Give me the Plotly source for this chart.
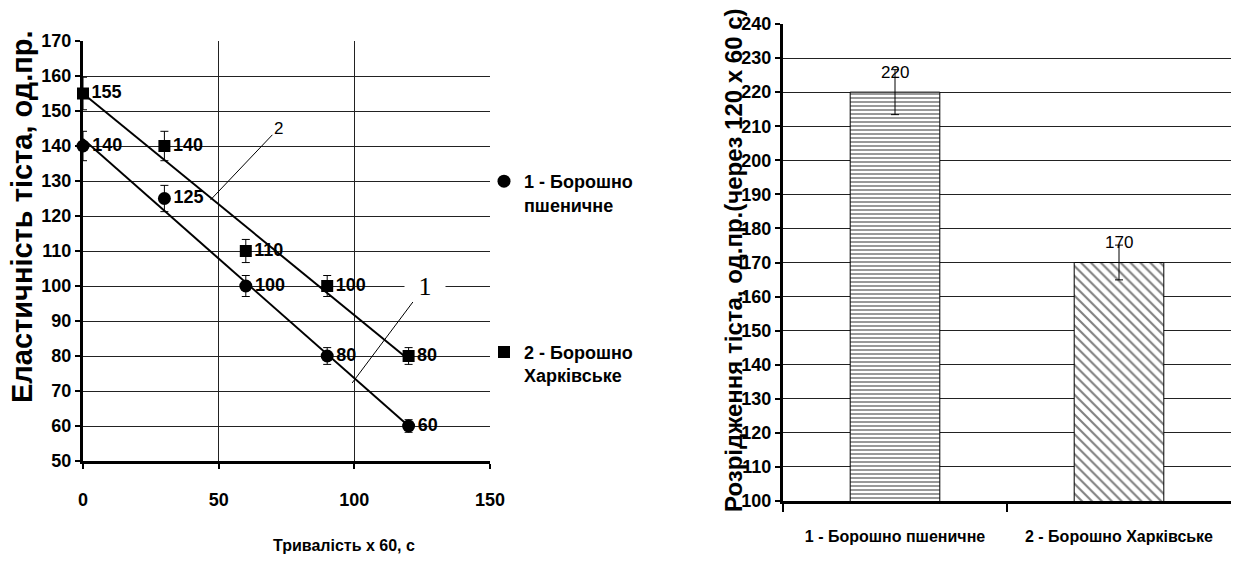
import numpy as np
import plotly.graph_objects as go

# ---------------- data ----------------
time_x = [0, 30, 60, 90, 120]
wheat_y = [140, 125, 100, 80, 60]
kharkiv_y = [155, 140, 110, 100, 80]
err_pct = 3

x_ticks_left = [0, 50, 100, 150]
y_ticks_left = list(range(50, 171, 10))

flour_names = ["1 - Борошно пшеничне", "2 - Борошно Харківське"]
liquefaction = [220, 170]
y_ticks_right = list(range(100, 241, 10))

legend_names = ["1 - Борошно<br>пшеничне", "2 - Борошно<br>Харківське"]

SANS = "Liberation Sans, Arial, sans-serif"
W, H = 1236, 574

def px_x(p):
    return p / W

def px_y(p):
    return 1 - p / H

fig = go.Figure()

# trend lines (linear fits)
tx = np.array(time_x, dtype=float)
for ys in (wheat_y, kharkiv_y):
    k, b = np.polyfit(tx, np.array(ys, dtype=float), 1)
    fig.add_trace(go.Scatter(
        x=[tx.min(), tx.max()], y=[k * tx.min() + b, k * tx.max() + b],
        mode="lines", line=dict(color="black", width=2),
        showlegend=False, hoverinfo="skip", xaxis="x", yaxis="y"))

series = [
    (wheat_y, "circle", 13, legend_names[0], "g1"),
    (kharkiv_y, "square", 12, legend_names[1], "g2"),
]
for ys, sym, sz, nm, grp in series:
    fig.add_trace(go.Scatter(
        x=time_x, y=ys, mode="markers+text",
        text=[str(v) for v in ys], textposition="middle right",
        textfont=dict(family=SANS, size=18, color="black", weight="bold"),
        marker=dict(symbol=sym, size=sz, color="black"),
        error_y=dict(type="percent", value=err_pct, color="black",
                     thickness=1, width=4),
        name=nm, legendgroup=grp, cliponaxis=False,
        xaxis="x", yaxis="y"))

# bar chart
fig.add_trace(go.Bar(
    x=flour_names, y=liquefaction, width=0.4,
    marker=dict(color="white", line=dict(color="black", width=1),
                pattern=dict(shape=["-", "\\"], size=[4, 7],
                             solidity=[0.4, 0.3], fgcolor="black",
                             bgcolor="white")),
    error_y=dict(type="percent", value=err_pct, color="black",
                 thickness=1, width=4),
    cliponaxis=False, showlegend=False, xaxis="x2", yaxis="y2"))

tickfont = dict(family=SANS, size=18, color="black", weight="bold")
common = dict(showline=True, linecolor="black", linewidth=3,
              ticks="outside", ticklen=5, tickcolor="black", tickwidth=2,
              zeroline=False, tickfont=tickfont, automargin=False)

annotations = [
    dict(text="Еластичність тіста, од.пр.", textangle=-90,
         x=px_x(22), y=px_y(217), xref="paper", yref="paper",
         xanchor="center", yanchor="middle", showarrow=False,
         font=dict(family=SANS, size=29, color="black", weight="bold")),
    dict(text="Розрідження тіста, од.пр.(через 120 х 60 с)", textangle=-90,
         x=px_x(733), y=px_y(260), xref="paper", yref="paper",
         xanchor="center", yanchor="middle", showarrow=False,
         font=dict(family=SANS, size=24, color="black", weight="bold")),
    dict(text="Тривалість х 60, с", x=px_x(344), y=px_y(545),
         xref="paper", yref="paper", xanchor="center", yanchor="middle",
         showarrow=False,
         font=dict(family=SANS, size=16, color="black", weight="bold")),
    dict(text="2", x=47, y=124.6, ax=72, ay=145, xref="x", yref="y",
         axref="x", ayref="y", showarrow=True, arrowhead=0,
         arrowwidth=1, arrowcolor="black",
         font=dict(family=SANS, size=17, color="black")),
    dict(text="1", x=99.2, y=72.3, ax=126, ay=100, xref="x", yref="y",
         axref="x", ayref="y", showarrow=True, arrowhead=0,
         arrowwidth=1, arrowcolor="black", bgcolor="white", width=38,
         font=dict(family="Liberation Serif, Times New Roman, serif",
                   size=26, color="black")),
]
# bar value labels
for name, val in zip(flour_names, liquefaction):
    annotations.append(dict(
        text=str(val), x=name, y=val, xref="x2", yref="y2",
        showarrow=False, yshift=20, xanchor="center", yanchor="middle",
        font=dict(family=SANS, size=17, color="black")))

fig.update_layout(
    width=W, height=H, autosize=False,
    margin=dict(l=0, r=0, t=0, b=0, autoexpand=False),
    paper_bgcolor="white", plot_bgcolor="white",
    xaxis=dict(domain=[px_x(83), px_x(490)], range=[0, 150],
               tickvals=x_ticks_left, showgrid=True, gridcolor="#222",
               gridwidth=1, ticklabelstandoff=15, anchor="y", **common),
    yaxis=dict(domain=[px_y(461), px_y(41)], range=[50, 170],
               tickvals=y_ticks_left, showgrid=True, gridcolor="#222",
               gridwidth=1, ticklabelstandoff=0, anchor="x", **common),
    xaxis2=dict(domain=[px_x(783), px_x(1231)], type="category",
                range=[-0.5, 1.5], tickson="boundaries", showgrid=False,
                ticklabelstandoff=19, anchor="y2", tickangle=0,
                **{**common, "ticklen": 8,
                   "tickfont": dict(family=SANS, size=16, color="black",
                                    weight="bold")}),
    yaxis2=dict(domain=[px_y(501), px_y(24)], range=[100, 240],
                tickvals=y_ticks_right, showgrid=True, gridcolor="#222",
                gridwidth=1, ticklabelstandoff=0, anchor="x2", **common),
    legend=dict(x=px_x(484), y=px_y(163), xanchor="left", yanchor="top",
                font=dict(family=SANS, size=18, color="black", weight="bold"),
                tracegroupgap=121, valign="top", itemwidth=30,
                bgcolor="rgba(0,0,0,0)"),
    showlegend=True,
    annotations=annotations,
)

fig.write_html("out.html",
               config={"displayModeBar": False},
               post_script="document.body.style.margin='0';"
                           "document.body.style.overflow='hidden';")
